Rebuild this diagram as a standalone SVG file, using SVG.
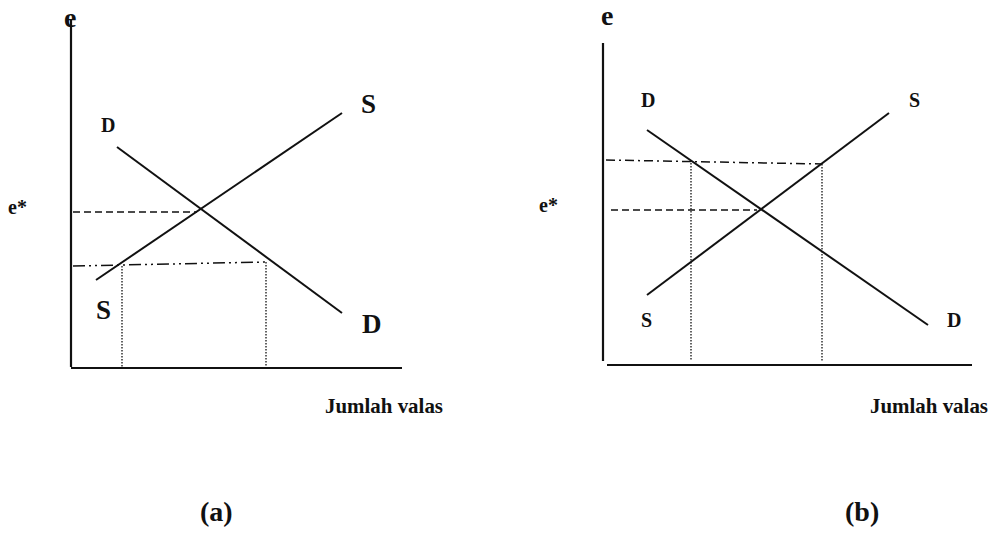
<svg xmlns="http://www.w3.org/2000/svg" width="994" height="533" viewBox="0 0 994 533">
<style>
.ax{stroke:#111;stroke-width:2.2;fill:none}
.cv{stroke:#111;stroke-width:2;fill:none}
.dash{stroke:#111;stroke-width:1.5;stroke-dasharray:7 4;fill:none}
.dd{stroke:#111;stroke-width:1.5;stroke-dasharray:12 4 2 4 2 4;fill:none}
.dt{stroke:#111;stroke-width:1.5;stroke-dasharray:9 4 2 4;fill:none}
.dot{stroke:#111;stroke-width:1.3;stroke-dasharray:1.5 1.5;fill:none}
text{font-family:"Liberation Serif","Times New Roman",serif;fill:#111;font-weight:bold}
</style>
<rect width="994" height="533" fill="#fff"/>
<g id="panel-a">
  <g id="axes-a">
    <line class="ax" x1="71" y1="20" x2="71" y2="367"/>
    <line class="ax" x1="71" y1="368" x2="402" y2="368"/>
  </g>
  <g id="curves-a">
    <line class="cv" x1="96" y1="280" x2="342" y2="113"/>
    <line class="cv" x1="117" y1="147" x2="342" y2="313"/>
  </g>
  <g id="guides-a">
    <line class="dash" x1="73" y1="212" x2="197" y2="212"/>
    <line class="dd" x1="73" y1="266" x2="266" y2="262"/>
    <line class="dot" x1="122" y1="266" x2="122" y2="367"/>
    <line class="dot" x1="266" y1="262" x2="266" y2="367"/>
  </g>
  <text x="64" y="27" font-size="28">e</text>
  <text x="8" y="214" font-size="20">e*</text>
  <text x="101" y="132" font-size="20">D</text>
  <text x="361" y="113" font-size="27">S</text>
  <text x="96" y="319" font-size="27">S</text>
  <text x="362" y="333" font-size="27">D</text>
  <text x="325" y="413" font-size="21" textLength="118" lengthAdjust="spacingAndGlyphs">Jumlah valas</text>
  <text x="200" y="521" font-size="28">(a)</text>
</g>
<g id="panel-b">
  <g id="axes-b">
    <line class="ax" x1="603" y1="43" x2="603" y2="361"/>
    <line class="ax" x1="607" y1="365" x2="972" y2="365"/>
  </g>
  <g id="curves-b">
    <line class="cv" x1="647" y1="130" x2="928" y2="325"/>
    <line class="cv" x1="647" y1="295" x2="889" y2="113"/>
  </g>
  <g id="guides-b">
    <line class="dt" x1="606" y1="160" x2="822" y2="164"/>
    <line class="dash" x1="611" y1="210" x2="757" y2="210"/>
    <line class="dot" x1="691" y1="160" x2="691" y2="361"/>
    <line class="dot" x1="822" y1="164" x2="822" y2="361"/>
  </g>
  <text x="601" y="25" font-size="28">e</text>
  <text x="539" y="212" font-size="20">e*</text>
  <text x="641" y="107" font-size="20">D</text>
  <text x="909" y="107" font-size="20">S</text>
  <text x="641" y="327" font-size="20">S</text>
  <text x="947" y="327" font-size="20">D</text>
  <text x="870" y="413" font-size="21" textLength="118" lengthAdjust="spacingAndGlyphs">Jumlah valas</text>
  <text x="845" y="521" font-size="28">(b)</text>
</g>
</svg>
